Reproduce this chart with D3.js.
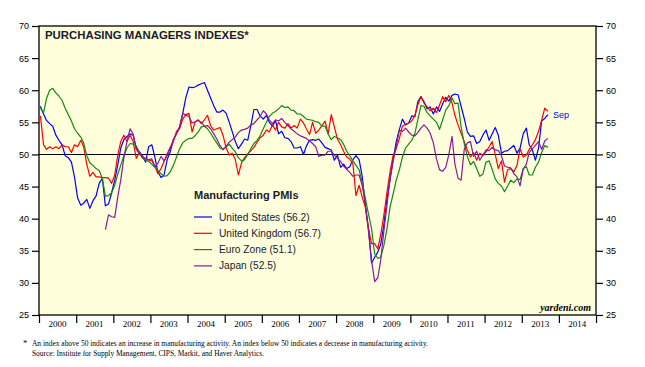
<!DOCTYPE html>
<html><head><meta charset="utf-8">
<script src="https://cdn.jsdelivr.net/npm/d3@7/dist/d3.min.js"></script>
<style>
body{margin:0;background:#fff;}
svg{display:block;}
</style></head>
<body>
<svg id="chart" width="645" height="367"></svg>
<script>
// ---------- DATA (monthly, Jan 2000 .. Sep 2013) ----------
const startYear = 2000;
const yearLabels = ["2000","2001","2002","2003","2004","2005","2006","2007","2008","2009","2010","2011","2012","2013","2014"];
const yTicks = [25,30,35,40,45,50,55,60,65,70];
const seriesNames = ["United States (56.2)","United Kingdom (56.7)","Euro Zone (51.1)","Japan (52.5)"];
const seriesColors = ["#0000ff","#ff0000","#138a13","#8a1a9a"];

const us = [
57.5,56.3,55.3,54.8,54.4,53,52.2,51.5,49.8,49.5,48.8,46.5,
43.2,42.1,42.4,43,41.6,42.8,43.5,45.5,46.3,42,42.3,44,
46,48.5,51,52.3,52.8,53.2,53,51,50.4,49.8,48.8,51.2,
51.5,49.5,47.3,46.4,46.8,49.2,50.4,52.3,53.3,54.3,56.4,58.8,
60.5,60.4,60.5,60.8,61,61.2,60,58.8,57.6,56.6,56.6,56.9,
56.4,55,53.6,52,50.9,51.6,52.4,52.2,54.5,57,57,56,
55.5,56.1,55,54.4,55.3,53.2,53.6,52.6,52.5,52,51,51,
51.2,50,51.3,52.2,52.3,52.2,52.4,51.8,51.1,50.9,50.7,49.1,
49.9,48,48.5,47.8,48.1,49.2,49.8,49.2,46.5,42,38.5,33.1,
34,34.8,36,39,43,46,49.2,52,53.9,55.5,54.6,54.9,
56,55.9,58.2,59,58.2,57.1,57.4,56.3,57.4,56.7,57.9,58.9,
58.3,59.2,59.4,59.3,57.5,55.6,53.5,52.8,52.9,51.7,52,53,
53.8,52.2,53.2,54.2,53,50.2,50.5,50.6,51,51.4,50.2,51,
53.2,54.1,51.5,50.7,49.1,51,55.2,55.6,56.2];

const uk = [
56,51.5,50.8,51.2,50.9,51.2,50.9,51.5,51.2,51.2,50.3,51.5,
51.2,52.2,51.2,48.5,46.6,47.2,46.5,46.5,46.4,46.4,46.3,45.5,
46.8,50,52,53,52,53,52,49.4,50.3,49.5,49.3,49.1,
49,48.2,47,47.8,48.9,50.1,51.1,52,53.6,54,55.5,56.2,
56.4,53.5,55,55.4,54.8,55.4,56.1,54.5,53.8,54,54.2,53,
51,49.9,50.2,49.2,46.8,48.7,49.5,50.1,50.6,51.1,51.9,52.6,
53,53.8,53.5,54.6,53.8,55,54.3,54.1,54.8,54.1,54.5,54.1,
55.5,54.9,54,53.1,55,53.3,53.8,54.5,55.2,53.2,56.2,54.3,
52.4,51.5,50.5,49.6,49.3,48.5,43.6,45.2,43.3,41.8,38.5,36.1,
36.1,35.3,37.5,40.5,44,47.3,49.8,50.9,52.5,54.4,54.7,54.9,
55.2,56.1,57.7,59,58,57.4,56.8,57.2,56.5,57.7,59,58.2,
59.2,58,56.1,54.6,53.3,52,50.7,49.6,50.3,49.1,50.2,49.8,
50.4,51.2,52,50,47.8,49,45.7,47.6,47.8,47.3,48.3,50.9,
49.6,49.9,50.8,51.5,52.3,53.6,55.3,57.2,56.7];

const euro = [
57.2,56.5,58.7,60,60.3,59.6,59.1,58.4,57.2,56.2,55.2,54,
53.3,52.7,51.8,49.8,48.7,48.3,47.8,47.5,46.3,43.5,43.6,44,
45.2,47,48.3,49.8,51,51.7,51.6,51.3,50.3,49.4,49.1,48.9,
48.5,48,47.5,47,46.6,46.7,47.3,48.3,49.6,50.9,51.8,52.2,
52.5,52.5,52.9,53.5,54.3,54.4,54,53.3,52.5,51.8,51,50.8,
51.2,51.6,51,50.4,49.5,49,49.2,50,50.9,51.7,52.2,52.9,
54,55,55.9,56.4,56.7,57.1,57.6,57.3,57.4,56.9,56.8,56.3,
56.3,55.9,55.5,55.4,55.3,55.1,55,54.4,54.4,53.2,52.3,52.8,
52.6,52.3,51.6,50.5,49.8,49,48.3,47.6,45.6,43.2,40.7,38.5,
34.5,33.8,34,35.8,38.3,41.8,43.8,46,47.6,49.6,51,51.6,
52.2,53.3,55.4,57.6,57.5,56.5,56,55.5,55,53.9,55.4,56.9,
57.6,58.8,57.9,58,54.3,51.7,49.7,48.4,48.9,47.8,46.6,46.9,
48.8,49,47.7,46.2,45.5,45.1,44.2,45.1,46,45.6,46.2,46.1,
47.8,48.1,46.8,46.8,48,48.8,50.3,51.4,51.1];

const japan = [
null,null,null,null,null,null,null,null,null,null,null,null,
null,null,null,null,null,null,null,null,null,38.3,40.6,40.3,
40.2,43.5,46,49.5,52,54,53.2,50.8,50.1,49.6,49.4,49.2,
49.3,48.1,48.6,49.7,49,49.8,51,52.3,53.2,54.2,56.4,56.1,
55.9,54.9,55.1,55.3,55,54.4,54.5,54,53.2,52.4,51.4,50.7,
51.3,51.9,52.3,52.7,53.4,53.8,53.9,54.1,54.6,54.8,55.4,55.9,
56.8,56.3,55.4,54.8,55.4,55.2,55.6,55,54.5,54,53.6,53.2,
52.9,52.7,52.5,52.1,51.7,51.2,49.7,49.9,49.9,50.5,50.5,49.9,
49.4,48.9,48.2,47.7,47.2,46.6,46.8,46.8,45.1,42.3,38,33.5,
30.2,30.8,33.5,38,42,46.3,48.9,51.3,53.8,53.6,54.1,53.5,
53,52.9,53.4,54.1,54.6,54.1,53.3,51.8,49.3,47.6,47.4,48,
50,52.8,48.5,46.3,46,50.8,51.8,52,49.7,50.5,49.1,49.9,
50.7,50.6,51.1,50.7,50.6,49.8,48.2,48,47.9,47,46.5,45.1,
47.7,48.5,50.3,50.9,51.4,52,50.8,52.1,52.5];

const series = [us, uk, euro, japan];

// ---------- LAYOUT ----------
const svg = d3.select("#chart");
const L = 39, R = 596, T = 26, B = 315;
const x = d3.scaleTime().domain([new Date(2000,0,1), new Date(2015,0,1)]).range([L, R]);
const y = d3.scaleLinear().domain([25,70]).range([B, T]);
const dateOf = i => new Date(startYear, i, 15);

svg.append("rect").attr("width",645).attr("height",367).attr("fill","#fff");
svg.append("rect").attr("x",L).attr("y",T).attr("width",R-L).attr("height",B-T).attr("fill","#ffffdc");

// 50 line
svg.append("line").attr("x1",L).attr("x2",R).attr("y1",Math.round(y(50))+0.5).attr("y2",Math.round(y(50))+0.5)
  .attr("stroke","#000").attr("stroke-width",1.2);

// lines
const line = d3.line().defined(d => d != null).x((d,i) => x(dateOf(i))).y(d => y(d));
series.forEach((s, k) => {
  svg.append("path").datum(s).attr("d", line).attr("fill","none")
    .attr("stroke", seriesColors[k]).attr("stroke-width",1.2).attr("stroke-linejoin","round");
});

// frame
svg.append("rect").attr("x",L).attr("y",T).attr("width",R-L).attr("height",B-T)
  .attr("fill","none").attr("stroke","#000").attr("stroke-width",1.3);

// axes
const fontSans = "Arial, 'Liberation Sans', sans-serif";
const fontSerif = "'Times New Roman', 'Liberation Serif', serif";
const yl = svg.append("g").attr("transform",`translate(${L},0)`)
  .call(d3.axisLeft(y).tickValues(yTicks).tickSize(7).tickPadding(3));
const yr = svg.append("g").attr("transform",`translate(${R},0)`)
  .call(d3.axisRight(y).tickValues(yTicks).tickSize(7).tickPadding(3));
[yl, yr].forEach(g => {
  g.select(".domain").remove();
  g.selectAll("line").attr("stroke","#000").attr("stroke-width",1.2);
  g.selectAll("text").attr("font-family",fontSans).attr("font-size","9px").attr("fill","#000");
});

const years = d3.range(2000, 2016).map(yy => new Date(yy,0,1));
const xg = svg.append("g").attr("transform",`translate(0,${B})`)
  .call(d3.axisBottom(x).tickValues(years).tickSize(8).tickFormat(""));
xg.select(".domain").remove();
xg.selectAll("line").attr("stroke","#000").attr("stroke-width",1.2);
svg.append("g").selectAll("text").data(yearLabels).join("text")
  .attr("x", d => x(new Date(+d,6,1))).attr("y", 327)
  .attr("text-anchor","middle").attr("font-family",fontSerif).attr("font-size","9px").text(d => d);

// title
svg.append("text").attr("x",45).attr("y",39).attr("font-family",fontSans).attr("font-weight","bold")
  .attr("font-size","11.4px").attr("fill","#1a1a2e").text("PURCHASING MANAGERS INDEXES*");

// legend
svg.append("text").attr("x",194).attr("y",199).attr("font-family",fontSans).attr("font-weight","bold")
  .attr("font-size","11px").attr("fill","#1a1a2e").text("Manufacturing PMIs");
const lg = svg.append("g").selectAll("g").data(seriesNames).join("g")
  .attr("transform",(d,i) => `translate(194,${217 + i*16.3})`);
lg.append("line").attr("x1",0).attr("x2",18).attr("stroke",(d,i)=>seriesColors[i]).attr("stroke-width",1.2);
lg.append("text").attr("x",25).attr("y",3.5).attr("font-family",fontSans).attr("font-size","10.2px")
  .attr("fill","#1a1a2e").text(d => d);

// Sep label
svg.append("text").attr("x",553).attr("y",118).attr("font-family",fontSans).attr("font-size","9px")
  .attr("fill","#0000ff").text("Sep");

// source
svg.append("text").attr("x",591).attr("y",311).attr("text-anchor","end").attr("font-family",fontSerif)
  .attr("font-weight","bold").attr("font-style","italic").attr("font-size","10px").text("yardeni.com");

// footnotes
svg.append("text").attr("x",23).attr("y",346).attr("font-family",fontSerif).attr("font-size","8.6px").text("*");
svg.append("text").attr("x",32).attr("y",346).attr("font-family",fontSerif).attr("font-size","8.6px")
  .attr("textLength",396).attr("lengthAdjust","spacingAndGlyphs")
  .text("An index above 50 indicates an increase in manufacturing activity. An index below 50 indicates a decrease in manufacturing activity.");
svg.append("text").attr("x",32).attr("y",356).attr("font-family",fontSerif).attr("font-size","8.6px")
  .attr("textLength",232).attr("lengthAdjust","spacingAndGlyphs")
  .text("Source: Institute for Supply Management, CIPS, Markit, and Haver Analytics.");
</script>
</body></html>
